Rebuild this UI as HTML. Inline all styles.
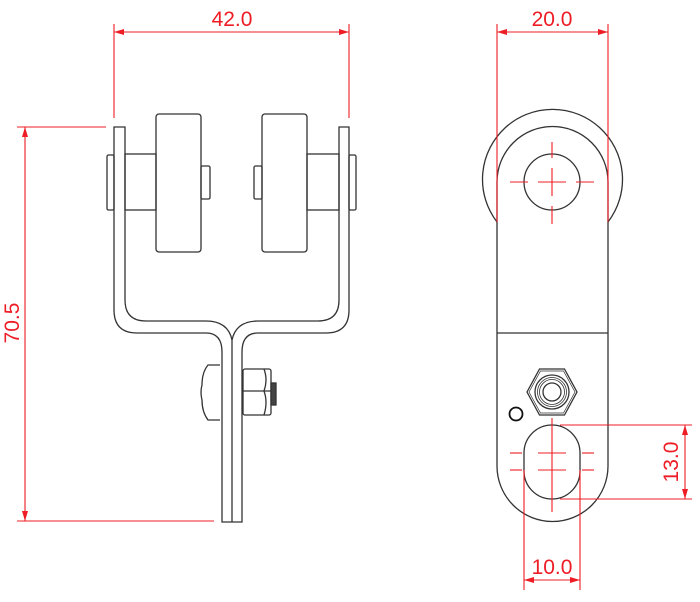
<!DOCTYPE html>
<html><head><meta charset="utf-8"><style>
html,body{margin:0;padding:0;background:#fff;}
svg{display:block;}
text{font-family:"Liberation Sans",sans-serif;fill:#ee1c24;font-size:21px;}
</style></head><body>
<svg width="700" height="602" viewBox="0 0 700 602" xmlns="http://www.w3.org/2000/svg">
<defs>
<marker id="a" viewBox="0 0 10 6" refX="10" refY="3" markerWidth="10" markerHeight="6" markerUnits="userSpaceOnUse" orient="auto-start-reverse"><path d="M0,0 L10,3 L0,6 z" fill="#ee1c24"/></marker>
</defs>
<g fill="none" stroke="#333" stroke-width="1.3">
<!-- left view bracket -->
<path d="M114,127 L114,310 Q114,333 137,333 L206,333 Q222,333 222,352 L222,522 L242,522 L242,352 Q242,333 258,333 L326,333 Q349,333 349,310 L349,127 L339,127 L339,300 Q339,321 318,321 L258,321 Q236,321 232,340 Q228,321 206,321 L146,321 Q125,321 125,300 L125,127 Z"/>
<line x1="232" y1="340" x2="232" y2="522"/>
<!-- left wheel -->
<rect x="156" y="114" width="45" height="138" rx="3"/>
<rect x="125" y="154" width="31" height="56"/>
<rect x="107" y="155" width="7" height="55" rx="1.5"/>
<rect x="201" y="166" width="9" height="33" rx="1.5"/>
<!-- right wheel -->
<rect x="262" y="114" width="45" height="138" rx="3"/>
<rect x="307" y="154" width="32" height="56"/>
<rect x="349" y="155" width="7" height="55" rx="1.5"/>
<rect x="254" y="166" width="8" height="33" rx="1.5"/>
<!-- bolt -->
<path d="M220,365 L208,365 Q202,372 202,385 Q200,392 202,400 Q202,412 208,420 L220,420"/>
<rect x="243" y="369" width="28" height="46" rx="2"/>
<line x1="243" y1="391" x2="271" y2="391"/>
<path d="M264,369 Q268,380 264,391 Q268,402 264,415"/>
<rect x="271" y="383" width="5" height="22" fill="#444"/>
<!-- right view -->
<path d="M497,222 A70,70 0 1 1 608,222"/>
<path d="M497,182 A55.5,55.5 0 0 1 608,182 L608,466 A55.5,55.5 0 0 1 497,466 Z"/>
<line x1="497" y1="333" x2="608" y2="333"/>
<circle cx="552" cy="182" r="28"/>
<path d="M527,392 L539.5,369 L564.5,369 L577,392 L564.5,415 L539.5,415 Z"/>
<path d="M529,392 L540.5,371 L563.5,371 L575,392 L563.5,413 L540.5,413 Z" stroke-width="0.7"/>
<circle cx="552" cy="392" r="17"/>
<circle cx="552" cy="392" r="14.5" stroke-width="0.8"/>
<circle cx="552" cy="392" r="12.5" stroke-width="0.8"/>
<circle cx="552" cy="392" r="9"/>
<circle cx="516" cy="414" r="6.5" stroke-width="1.8" stroke="#111"/>
<path d="M524,453 A28,28 0 0 1 580,453 L580,471 A28,28 0 0 1 524,471 Z"/>
</g>
<g stroke="#ee1c24" stroke-width="1.1" fill="none">
<!-- 42.0 -->
<line x1="114" y1="24" x2="114" y2="118"/>
<line x1="349" y1="24" x2="349" y2="118"/>
<line x1="114" y1="32" x2="349" y2="32" marker-start="url(#a)" marker-end="url(#a)"/>
<!-- 70.5 -->
<line x1="17" y1="127" x2="106" y2="127"/>
<line x1="17" y1="521" x2="214" y2="521"/>
<line x1="25" y1="127" x2="25" y2="521" marker-start="url(#a)" marker-end="url(#a)"/>
<!-- 20.0 -->
<line x1="497" y1="24" x2="497" y2="222"/>
<line x1="608" y1="24" x2="608" y2="222"/>
<line x1="497" y1="32" x2="608" y2="32" marker-start="url(#a)" marker-end="url(#a)"/>
<!-- center marks top hole -->
<line x1="510" y1="182" x2="528" y2="182"/><line x1="538" y1="182" x2="566" y2="182"/><line x1="576" y1="182" x2="594" y2="182"/>
<line x1="552" y1="142" x2="552" y2="158"/><line x1="552" y1="168" x2="552" y2="196"/><line x1="552" y1="206" x2="552" y2="224"/>
<!-- slot marks -->
<line x1="510" y1="453" x2="522" y2="453"/><line x1="538" y1="453" x2="566" y2="453"/><line x1="582" y1="453" x2="594" y2="453"/>
<line x1="510" y1="470" x2="522" y2="470"/><line x1="538" y1="470" x2="566" y2="470"/><line x1="582" y1="470" x2="594" y2="470"/>
<line x1="552" y1="418" x2="552" y2="512"/>
<!-- 13.0 -->
<line x1="560" y1="425" x2="692" y2="425"/>
<line x1="560" y1="499" x2="692" y2="499"/>
<line x1="685" y1="425" x2="685" y2="499" marker-start="url(#a)" marker-end="url(#a)"/>
<!-- 10.0 -->
<line x1="524" y1="470" x2="524" y2="590"/>
<line x1="580" y1="470" x2="580" y2="590"/>
<line x1="524" y1="580" x2="580" y2="580" marker-start="url(#a)" marker-end="url(#a)"/>
</g>
<text x="232" y="26" text-anchor="middle">42.0</text>
<text x="552" y="26" text-anchor="middle">20.0</text>
<text x="552" y="574" text-anchor="middle">10.0</text>
<text transform="translate(19,323) rotate(-90)" text-anchor="middle">70.5</text>
<text transform="translate(678,462) rotate(-90)" text-anchor="middle">13.0</text>
</svg>
</body></html>
